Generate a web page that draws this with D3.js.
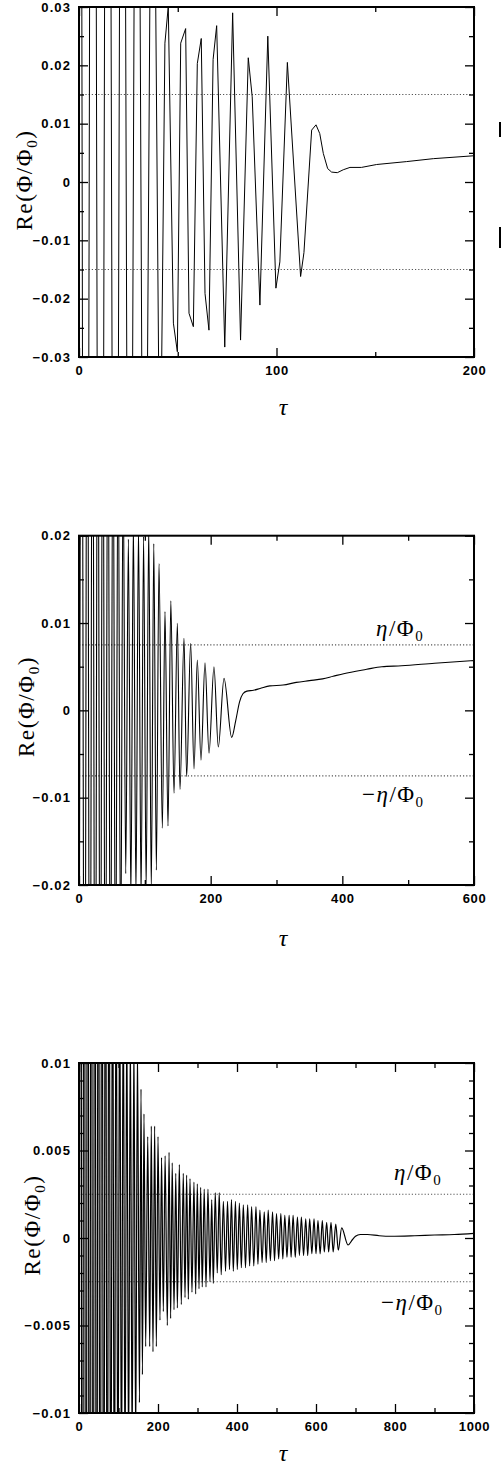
<!DOCTYPE html>
<html><head><meta charset="utf-8">
<script src="https://cdn.jsdelivr.net/npm/d3@7"></script>
<style>body{margin:0;background:#fff}svg{display:block}</style>
</head><body>
<svg id="c" width="501" height="1467"></svg>
<script>
// ---------- DATA ----------
// Panel 1: Re(Phi/Phi0) vs tau, tau in [0,200]
const panel1Data = [
 [0,0.30],[3.2,-0.30],[7.0,0.28],[10.8,-0.26],[14.5,0.24],[18.3,-0.22],[22.0,0.20],[25.5,-0.17],
 [29.3,0.15],[33.0,-0.12],[37.2,0.10],[41.0,-0.06],[43.5,0.0238],[45.2,0.0301],[47.8,-0.0242],
 [49.8,-0.0291],[51.5,0.0238],[54.0,0.0263],[55.7,-0.0225],[57.9,-0.0248],[59.9,0.0203],[61.9,0.0246],
 [63.8,-0.0191],[65.8,-0.0254],[67.9,0.0210],[69.7,0.0268],[73.8,-0.0283],[77.8,0.0290],[81.8,-0.0271],
 [85.7,0.0213],[87.7,0.0146],[91.6,-0.0211],[95.6,0.0250],[99.7,-0.0182],[101.7,-0.0137],[105.5,0.0205],
 [112.2,-0.0162],[113.9,-0.0121],[117.8,0.0089],[120.0,0.0098],[121.9,0.0083],[123.7,0.0049],
 [125.9,0.0023],[127.9,0.0017],[130.8,0.0016],[133.8,0.0021],[137.2,0.0025],[143,0.0025],
 [150.7,0.0030],[165.9,0.0035],[179.4,0.0040],[200,0.0045]
];
// Panel 2: tau in [0,600]
const panel2Data = [
 [0,-0.05],[4,0.06],[8.5,-0.06],[12.5,0.06],[16.5,-0.058],[20.5,0.056],[24.5,-0.054],[28.5,0.052],
 [32.3,-0.05],[36.1,0.048],[40,-0.045],[43.9,0.043],[47.8,-0.04],[51.6,0.038],[55.5,-0.035],[59.4,0.033],
 [63.3,-0.03],[67,0.028],[71,-0.0187],[75,0.0196],[78.8,-0.0215],[82.6,0.0215],[86.5,-0.021],[90.4,0.021],
 [94.3,-0.0215],[98.1,0.0199],[102,-0.0205],[105.9,0.021],[109.8,-0.0205],[113.6,0.0191],[117.5,-0.0183],
 [121.5,0.0168],[126.6,-0.0135],[130.6,0.0113],[135.2,-0.01325],[139.5,0.01255],[144.3,-0.0095],
 [149.4,0.00996],[153.4,-0.00905],[159.5,0.00824],[163.5,-0.0076],[169.6,0.00767],[174.7,-0.0067],
 [179.7,0.00576],[185.3,-0.0057],[191.4,0.00545],[197.5,-0.0049],[205,0.0050],[211.6,-0.0042],
 [220.3,0.00366],[231.9,-0.0031],[238,-0.0012],[244,0.0010],[249,0.0019],[255,0.0022],[265,0.0023],
 [275,0.0025],[290,0.0028],[310,0.0029],[330,0.0032],[350,0.0034],[370,0.0036],[386,0.0039],
 [402,0.0042],[437,0.0047],[460,0.0050],[490,0.0051],[540,0.0054],[600,0.0057]
];
// Panel 3: tau in [0,1000]
const panel3Data = [
 [0,-0.05],[4,0.05],[8.5,-0.048],[13,0.047],[17.5,-0.045],[22,0.044],[26.5,-0.042],[31,0.04],
 [35.5,-0.038],[40,0.036],[44.5,-0.034],[49,0.032],[53.5,-0.03],[58,0.029],[62.5,-0.027],[67,0.026],
 [71.5,-0.024],[76,0.023],[80.5,-0.021],[85,0.02],[89.5,-0.019],[94,0.018],[98.5,-0.017],[103,0.016],
 [107.5,-0.015],[112,0.015],[116.5,-0.014],[121,0.013],[125.5,-0.013],[130,0.012],[134.5,-0.0125],
 [139,0.0115],[143.5,-0.012],[148,0.011],[153,-0.0094],[157,0.0085],[160.5,-0.0078],[164.5,0.0071],
 [168.8,-0.0062],[174,0.0058],[179,-0.0062],[183,0.0064],[187.3,-0.0065],[191.5,0.0064],[195.8,-0.0062],
 [200,0.0058],[205,-0.0047],[209,0.0046],[213.5,-0.0042],[218,0.0047],[223.6,-0.005],[228,0.0049],
 [232,-0.0046],[236,0.0043],[240.5,-0.0041],[245,0.0037],[249,-0.004],[254,0.0042],[259,-0.0038],
 [264,0.0037],[268.4,-0.0034],[272.5,0.0036],[276.8,-0.0035],[281,0.0034],[286,-0.0031],[291,0.0032],
 [295.4,-0.0032],[299.5,0.0031],[303.8,-0.0029],[308,0.0029],[312,-0.0028],[317,0.0028],[321.5,-0.0028],
 [326.5,0.0028],[331.6,-0.0025],[336,0.0022],[340,-0.0026],[345,0.0026],[350,-0.002],[355,0.0026],
 [360,-0.0021],[365.5,0.0021],[371,-0.0019],[376,0.0021],[381,-0.0018],[386,0.0022],[390.7,-0.0019],
 [396,0.0021],[400.8,-0.0018],[406,0.002],[411,-0.0017],[416,0.0019],[421.5,-0.0017],[427,0.0019],
 [432,-0.0016],[437,0.0018],[442.5,-0.0016],[448,0.0018],[453,-0.0015],[458,0.0016],[463.5,-0.0014],
 [469,0.0015],[474,-0.0014],[479,0.0016],[484.5,-0.0013],[490,0.0015],[495,-0.0013],[500,0.0014],
 [505.5,-0.0012],[511,0.0014],[516,-0.0012],[521,0.0013],[526.5,-0.0011],[532,0.0013],[537,-0.0011],
 [542,0.0013],[547.5,-0.0011],[553,0.0012],[558,-0.001],[563,0.0012],[568.5,-0.001],[574,0.0011],
 [579,-0.001],[584,0.0011],[589.5,-0.0009],[595,0.0011],[600,-0.0009],[605,0.001],[610.5,-0.0009],
 [616,0.001],[621,-0.0008],[627,0.0009],[632,-0.0008],[638,0.0009],[643.5,-0.0008],[650,0.0008],
 [656.5,-0.0007],[665,0.00058],[681,-0.0004],[692,-0.0001],[700,0.0001],[712,0.0002],[730,0.0002],
 [760,0.00013],[790,0.0001],[850,0.00013],[900,0.00017],[950,0.0002],[1000,0.00027]
];

// thresholds eta/Phi0
const etaValues = [0.015, 0.0075, 0.0025];

// tick values and labels
const p1XMajor = [0,100,200], p1XMinor = [50,150], p1XLabels = ["0","100","200"];
const p1YMajor = [-0.03,-0.02,-0.01,0,0.01,0.02,0.03];
const p1YMinor = [-0.025,-0.015,-0.005,0.005,0.015,0.025];
const p1YLabels = ["\u22120.03","\u22120.02","\u22120.01","0","0.01","0.02","0.03"];

const p2XMajor = [0,200,400,600], p2XMinor = [100,300,500], p2XLabels = ["0","200","400","600"];
const p2YMajor = [-0.02,-0.01,0,0.01,0.02];
const p2YMinor = [-0.015,-0.005,0.005,0.015];
const p2YLabels = ["\u22120.02","\u22120.01","0","0.01","0.02"];

const p3XMajor = [0,200,400,600,800,1000], p3XMinor = [100,300,500,700,900];
const p3XLabels = ["0","200","400","600","800","1000"];
const p3YMajor = [-0.01,-0.005,0,0.005,0.01];
const p3YMinor = [-0.009,-0.008,-0.007,-0.006,-0.004,-0.003,-0.002,-0.001,0.001,0.002,0.003,0.004,0.006,0.007,0.008,0.009];
const p3YLabels = ["\u22120.01","\u22120.005","0","0.005","0.01"];

// ---------- LAYOUT ----------
const L = 79, R = 474;
const panels = [
 {top:7, bottom:357, xDomain:[0,200], yDomain:[-0.03,0.03], data:panel1Data, curve:d3.curveLinear, lw:1,
  xMaj:p1XMajor, xMin:p1XMinor, xLab:p1XLabels, yMaj:p1YMajor, yMin:p1YMinor, yLab:p1YLabels,
  eta:etaValues[0], titleX:32, titleY:180, tauY:415, etaLab:null},
 {top:535.7, bottom:885, xDomain:[0,600], yDomain:[-0.02,0.02], data:panel2Data, curve:d3.curveMonotoneX, lw:1.1,
  xMaj:p2XMajor, xMin:p2XMinor, xLab:p2XLabels, yMaj:p2YMajor, yMin:p2YMinor, yLab:p2YLabels,
  eta:etaValues[1], titleX:33.5, titleY:706.5, tauY:946, etaLab:{x:376, y:636, mx:362, my:802}},
 {top:1063, bottom:1413, xDomain:[0,1000], yDomain:[-0.01,0.01], data:panel3Data, curve:d3.curveMonotoneX, lw:1.2,
  xMaj:p3XMajor, xMin:p3XMinor, xLab:p3XLabels, yMaj:p3YMajor, yMin:p3YMinor, yLab:p3YLabels,
  eta:etaValues[2], titleX:40, titleY:1225, tauY:1461, etaLab:{x:394, y:1180, mx:381, my:1310}}
];

const svg = d3.select("#c");
const sans = "'Liberation Sans', Arial, Helvetica, sans-serif";
const serif = "'Liberation Serif', 'Times New Roman', serif";

panels.forEach((p, i) => {
  const x = d3.scaleLinear().domain(p.xDomain).range([L, R]);
  const y = d3.scaleLinear().domain(p.yDomain).range([p.bottom, p.top]);
  const g = svg.append("g");

  svg.append("clipPath").attr("id", "clip" + i)
    .append("rect").attr("x", L).attr("y", p.top).attr("width", R - L).attr("height", p.bottom - p.top);

  // dotted threshold lines
  g.selectAll("line.eta").data([p.eta, -p.eta]).join("line").attr("class", "eta")
    .attr("x1", L).attr("x2", R).attr("y1", d => y(d)).attr("y2", d => y(d))
    .attr("stroke", "#555").attr("stroke-width", 1.1).attr("stroke-dasharray", "1.2,2");

  // curve
  const line = d3.line().x(d => x(d[0])).y(d => y(d[1])).curve(p.curve);
  g.append("path").attr("clip-path", "url(#clip" + i + ")")
    .attr("d", line(p.data)).attr("fill", "none").attr("stroke", "#000").attr("stroke-width", p.lw);

  // axes (ticks inward)
  function axis(gen, tr, vals, size, fmt, pad) {
    const a = g.append("g").attr("transform", tr)
      .call(gen.tickValues(vals).tickSize(-size).tickPadding(pad).tickFormat(fmt));
    a.select(".domain").remove();
    a.selectAll(".tick line").attr("stroke", "#000").attr("stroke-width", 1.3);
    return a;
  }
  const yl = axis(d3.axisLeft(y), `translate(${L},0)`, p.yMaj, 9, (d, k) => p.yLab[k], 8);
  yl.selectAll("text").attr("font-family", sans).attr("font-size", 13).attr("fill", "#000")
    .attr("letter-spacing", 1.1).attr("font-weight", "bold");
  axis(d3.axisLeft(y), `translate(${L},0)`, p.yMin, 5, "", 0);
  axis(d3.axisRight(y), `translate(${R},0)`, p.yMaj, 9, "", 0);
  axis(d3.axisRight(y), `translate(${R},0)`, p.yMin, 5, "", 0);
  const xb = axis(d3.axisBottom(x), `translate(0,${p.bottom})`, p.xMaj, 9, (d, k) => p.xLab[k], 9);
  xb.selectAll("text").attr("font-family", sans).attr("font-size", 13).attr("fill", "#000")
    .attr("letter-spacing", 0.6).attr("font-weight", "bold");
  axis(d3.axisBottom(x), `translate(0,${p.bottom})`, p.xMin, 5, "", 0);
  axis(d3.axisTop(x), `translate(0,${p.top})`, p.xMaj, 9, "", 0);
  axis(d3.axisTop(x), `translate(0,${p.top})`, p.xMin, 5, "", 0);

  // frame
  g.append("rect").attr("x", L).attr("y", p.top).attr("width", R - L).attr("height", p.bottom - p.top)
    .attr("fill", "none").attr("stroke", "#000").attr("stroke-width", 2);

  // y title
  const t = g.append("text").attr("transform", `translate(${p.titleX},${p.titleY}) rotate(-90)`)
    .attr("text-anchor", "middle").attr("font-family", serif).attr("font-size", 23).attr("fill", "#000")
    .attr("letter-spacing", 1.6);
  t.append("tspan").text("Re(\u03A6/\u03A6");
  t.append("tspan").attr("font-size", 15).attr("dy", 5).text("0");
  t.append("tspan").attr("dy", -5).text(")");

  // x title
  g.append("text").attr("x", 283).attr("y", p.tauY).attr("text-anchor", "middle")
    .attr("font-family", serif).attr("font-style", "italic").attr("font-size", 24).attr("fill", "#000").text("\u03C4");

  // eta labels
  if (p.etaLab) {
    const mk = (xx, yy, minus) => {
      const e = g.append("text").attr("x", xx).attr("y", yy).attr("font-family", serif)
        .attr("font-size", 23).attr("fill", "#000").attr("letter-spacing", 1.5);
      if (minus) e.append("tspan").text("\u2212");
      e.append("tspan").attr("font-style", "italic").text("\u03B7");
      e.append("tspan").text("/\u03A6");
      e.append("tspan").attr("font-size", 15).attr("dy", 5).text("0");
    };
    mk(p.etaLab.x, p.etaLab.y, false);
    mk(p.etaLab.mx, p.etaLab.my, true);
  }
});

// fragments of cropped labels at the right edge next to the first panel
svg.append("g").selectAll("rect").data([[122, 15], [227, 21]]).join("rect")
  .attr("x", 499).attr("y", d => d[0]).attr("width", 2).attr("height", d => d[1]).attr("fill", "#000");
</script>
</body></html>
